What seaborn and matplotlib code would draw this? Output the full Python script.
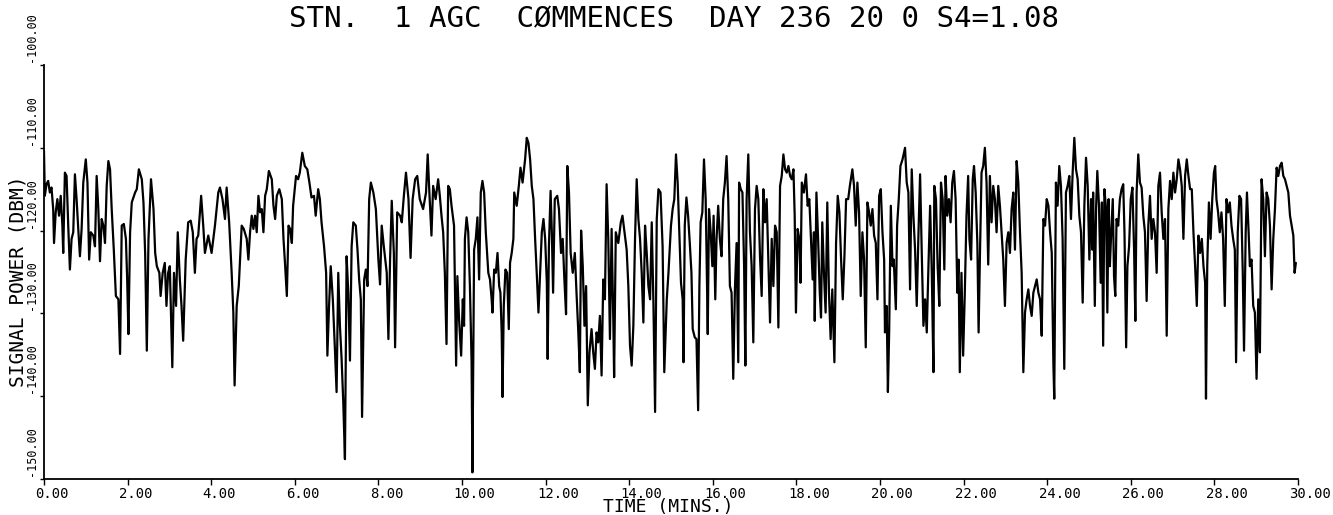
import numpy as np
import pandas as pd
import matplotlib
matplotlib.use("Agg")
import matplotlib.pyplot as plt
import matplotlib.transforms as mtransforms
import seaborn as sns

# AGC signal power record, station 1, day 236 (time in minutes, power in dBm)
t_00_05 = [0.00, 0.01, 0.02, 0.06, 0.10, 0.14, 0.18, 0.22, 0.24, 0.28, 0.32, 0.36, 0.40, 0.44, 0.46,
           0.50, 0.54, 0.58, 0.62, 0.66, 0.70, 0.74, 0.78, 0.82, 0.86, 0.90, 0.94, 1.00, 1.04, 1.08,
           1.12, 1.18, 1.22, 1.26, 1.30, 1.34, 1.38, 1.42, 1.46, 1.50, 1.54, 1.58, 1.62, 1.67, 1.72,
           1.78, 1.82, 1.86, 1.91, 1.96, 1.99, 2.02, 2.06, 2.10, 2.18, 2.22, 2.27, 2.34, 2.38, 2.42,
           2.46, 2.50, 2.56, 2.62, 2.66, 2.70, 2.76, 2.79, 2.84, 2.89, 2.93, 2.97, 3.01, 3.07, 3.11,
           3.16, 3.20, 3.25, 3.29, 3.33, 3.39, 3.45, 3.51, 3.56, 3.61, 3.65, 3.69, 3.76, 3.81, 3.85,
           3.93, 4.01, 4.09, 4.17, 4.21, 4.27, 4.33, 4.37, 4.43, 4.49, 4.53, 4.56, 4.61, 4.66, 4.73,
           4.78, 4.85, 4.89]
p_00_05 = [-110.4, -113.4, -115.8, -114.4, -114.0, -115.4, -114.8, -117.4, -121.5, -117.8,
           -116.2, -118.2, -115.8, -119.4, -122.7, -113.0, -113.4, -119.4, -124.7, -121.0,
           -120.2, -113.2, -116.2, -119.8, -123.1, -119.8, -114.2, -111.4, -114.2, -123.5,
           -120.2, -120.6, -121.9, -113.4, -117.4, -123.7, -118.6, -119.4, -121.5, -114.6,
           -111.6, -112.6, -117.4, -122.3, -127.9, -128.3, -134.9, -119.4, -119.2, -121.0,
           -125.9, -132.5, -120.2, -116.6, -115.4, -115.0, -112.6, -113.8, -116.6, -122.7,
           -134.5, -121.0, -113.8, -117.4, -122.7, -124.3, -125.1, -127.9, -125.1, -123.9,
           -129.1, -125.1, -124.3, -136.5, -125.1, -129.1, -120.2, -125.9, -129.1, -133.3,
           -123.5, -119.0, -118.8, -120.2, -125.1, -121.0, -120.6, -115.8, -119.4, -122.7,
           -120.6, -122.7, -119.4, -115.4, -114.8, -116.2, -118.6, -114.8, -119.0, -125.1,
           -129.9, -138.7, -129.1, -126.7, -119.4, -119.8, -121.0, -123.5]

t_05_10 = [4.93, 4.97, 5.01, 5.05, 5.09, 5.13, 5.17, 5.21, 5.25, 5.29, 5.33, 5.38, 5.45, 5.49, 5.53,
           5.57, 5.63, 5.69, 5.73, 5.77, 5.81, 5.85, 5.89, 5.93, 5.96, 6.03, 6.08, 6.12, 6.18, 6.24,
           6.30, 6.35, 6.40, 6.46, 6.50, 6.56, 6.60, 6.64, 6.70, 6.75, 6.78, 6.82, 6.86, 6.91, 6.96,
           7.00, 7.04, 7.08, 7.12, 7.16, 7.20, 7.24, 7.28, 7.32, 7.36, 7.40, 7.46, 7.50, 7.54, 7.58,
           7.61, 7.66, 7.70, 7.74, 7.78, 7.82, 7.88, 7.94, 8.00, 8.04, 8.08, 8.13, 8.20, 8.24, 8.28,
           8.32, 8.37, 8.40, 8.45, 8.52, 8.56, 8.61, 8.66, 8.72, 8.77, 8.82, 8.88, 8.93, 8.99, 9.07,
           9.14, 9.18, 9.22, 9.27, 9.31, 9.37, 9.43, 9.47, 9.51, 9.55, 9.59, 9.63, 9.67, 9.71, 9.75,
           9.81, 9.86, 9.89, 9.93]
p_05_10 = [-120.2, -118.2, -119.8, -118.2, -120.2, -115.8, -117.8, -117.4, -120.2, -115.8,
           -115.0, -112.8, -113.8, -117.0, -118.6, -115.8, -115.0, -116.2, -121.0, -124.3,
           -127.9, -119.4, -119.8, -121.5, -117.0, -113.4, -113.8, -113.0, -110.6, -112.2,
           -112.6, -114.2, -116.0, -115.8, -118.2, -115.0, -116.2, -119.0, -121.9, -125.1,
           -135.1, -129.1, -124.3, -128.3, -134.3, -139.5, -125.1, -131.5, -135.5, -140.7,
           -147.6, -123.1, -127.5, -135.7, -121.9, -119.0, -119.4, -122.3, -125.9, -128.3,
           -142.5, -125.9, -124.7, -126.7, -116.2, -114.2, -115.4, -117.4, -123.5, -126.5,
           -119.4, -121.9, -125.1, -133.1, -123.5, -116.4, -122.7, -134.1, -117.8, -118.2,
           -119.0, -115.8, -113.0, -116.2, -123.3, -116.2, -113.8, -113.4, -116.2, -117.4,
           -115.4, -110.8, -115.4, -120.6, -114.6, -116.2, -113.8, -115.8, -118.2, -120.2,
           -125.1, -133.7, -114.6, -115.0, -117.0, -119.4, -136.3, -125.5, -130.7]

t_10_15 = [9.98, 10.02, 10.05, 10.07, 10.11, 10.15, 10.19, 10.23, 10.25, 10.29, 10.33, 10.37, 10.41,
           10.45, 10.49, 10.53, 10.57, 10.63, 10.67, 10.71, 10.73, 10.77, 10.81, 10.85, 10.89, 10.92,
           10.95, 10.97, 11.00, 11.04, 11.08, 11.12, 11.15, 11.19, 11.23, 11.25, 11.31, 11.36, 11.40,
           11.45, 11.51, 11.55, 11.59, 11.63, 11.67, 11.71, 11.75, 11.79, 11.83, 11.87, 11.91, 11.95,
           11.99, 12.03, 12.05, 12.08, 12.12, 12.15, 12.18, 12.22, 12.28, 12.32, 12.37, 12.41, 12.45,
           12.49, 12.52, 12.56, 12.60, 12.65, 12.70, 12.74, 12.78, 12.82, 12.85, 12.89, 12.93, 12.97,
           13.01, 13.05, 13.10, 13.14, 13.18, 13.22, 13.26, 13.30, 13.34, 13.38, 13.42, 13.46, 13.50,
           13.54, 13.58, 13.62, 13.64, 13.68, 13.74, 13.80, 13.84, 13.88, 13.94, 13.98, 14.02, 14.06,
           14.10, 14.14, 14.18, 14.22, 14.26, 14.30, 14.34, 14.38, 14.42, 14.46, 14.50, 14.54, 14.58,
           14.62, 14.66, 14.70, 14.75, 14.80, 14.84, 14.90, 14.94]
p_10_15 = [-135.1, -128.3, -131.5, -121.0, -118.4, -120.2, -126.7, -135.9, -149.2, -122.3,
           -121.0, -118.4, -125.9, -115.4, -114.0, -115.4, -120.2, -125.1, -125.9, -128.3,
           -129.9, -124.7, -125.1, -122.7, -126.7, -127.5, -132.3, -140.1, -129.1, -124.7,
           -125.1, -131.9, -123.9, -122.7, -121.0, -115.4, -117.0, -114.6, -112.4, -114.2,
           -111.4, -108.8, -109.4, -111.4, -114.6, -116.2, -121.0, -125.3, -129.9, -125.1,
           -120.2, -118.6, -121.0, -126.3, -135.5, -121.9, -115.2, -120.2, -127.5, -116.2,
           -115.8, -117.4, -122.7, -121.0, -125.9, -130.1, -112.2, -115.4, -122.7, -125.1,
           -122.7, -127.5, -131.9, -137.1, -120.0, -124.3, -131.5, -126.7, -141.1, -134.7,
           -131.9, -134.7, -136.7, -132.3, -133.5, -130.3, -137.5, -125.9, -128.3, -114.4,
           -121.0, -133.1, -119.8, -130.7, -137.7, -120.2, -121.5, -119.0, -118.2, -119.8,
           -122.3, -126.7, -133.9, -136.3, -131.5, -121.0, -113.8, -118.6, -121.0, -125.1,
           -131.1, -119.4, -122.7, -126.7, -128.3, -119.0, -128.7, -141.9, -118.6, -115.0,
           -115.4, -121.9, -137.1, -128.3, -125.1]

t_15_20 = [15.00, 15.04, 15.08, 15.12, 15.16, 15.20, 15.24, 15.28, 15.30, 15.33, 15.37, 15.41, 15.45,
           15.49, 15.52, 15.57, 15.61, 15.65, 15.68, 15.71, 15.75, 15.79, 15.83, 15.85, 15.88, 15.91,
           15.95, 15.99, 16.02, 16.06, 16.09, 16.13, 16.17, 16.21, 16.25, 16.29, 16.33, 16.37, 16.41,
           16.45, 16.49, 16.53, 16.57, 16.61, 16.63, 16.67, 16.71, 16.75, 16.78, 16.81, 16.85, 16.89,
           16.93, 16.97, 17.01, 17.05, 17.09, 17.13, 17.17, 17.21, 17.25, 17.29, 17.33, 17.37, 17.41,
           17.45, 17.49, 17.53, 17.57, 17.61, 17.65, 17.69, 17.73, 17.77, 17.81, 17.85, 17.89, 17.93,
           17.96, 17.99, 18.03, 18.07, 18.10, 18.13, 18.18, 18.23, 18.27, 18.31, 18.35, 18.39, 18.42,
           18.44, 18.48, 18.52, 18.56, 18.59, 18.62, 18.66, 18.70, 18.74, 18.78, 18.82, 18.86, 18.91,
           18.95, 18.99, 19.03, 19.07, 19.11, 19.15, 19.19, 19.24, 19.28, 19.34, 19.38, 19.42, 19.46,
           19.50, 19.54, 19.58, 19.62, 19.66, 19.70, 19.74, 19.78, 19.82, 19.86, 19.90, 19.94, 19.98]
p_15_20 = [-119.4, -117.4, -116.2, -110.8, -114.2, -120.2, -126.3, -128.3, -135.9, -119.4,
           -116.0, -118.2, -121.5, -125.1, -131.9, -132.9, -133.1, -141.7, -126.7, -119.0,
           -117.8, -111.4, -116.2, -122.3, -132.5, -117.4, -120.2, -124.3, -118.2, -128.3,
           -121.0, -117.0, -121.0, -123.1, -116.2, -114.2, -111.0, -116.2, -126.7, -127.5,
           -137.9, -127.1, -121.5, -135.9, -114.2, -115.0, -115.4, -124.3, -136.3, -116.2,
           -110.8, -120.2, -124.3, -133.5, -117.4, -114.6, -116.2, -123.1, -127.9, -115.0,
           -119.0, -116.2, -123.5, -131.1, -121.0, -126.7, -119.4, -120.2, -131.7, -114.6,
           -113.4, -110.8, -112.6, -113.0, -112.2, -113.4, -113.8, -112.6, -118.2, -129.9,
           -119.8, -121.0, -126.3, -114.2, -115.4, -113.2, -117.0, -116.2, -121.0, -125.9,
           -120.2, -130.9, -115.4, -121.0, -127.5, -130.5, -119.0, -125.1, -129.9, -116.6,
           -127.5, -133.1, -127.1, -135.9, -121.5, -115.8, -117.8, -123.5, -128.3, -123.1,
           -116.2, -116.2, -114.6, -112.6, -114.6, -119.4, -114.2, -117.8, -127.9, -120.2,
           -123.5, -134.1, -116.6, -117.8, -119.4, -117.4, -120.6, -121.5, -128.3, -115.8]

t_20_25 = [20.02, 20.06, 20.10, 20.12, 20.16, 20.19, 20.22, 20.26, 20.30, 20.33, 20.38, 20.41, 20.45,
           20.49, 20.54, 20.60, 20.64, 20.68, 20.72, 20.76, 20.80, 20.84, 20.88, 20.92, 20.96, 21.00,
           21.04, 21.08, 21.12, 21.16, 21.20, 21.24, 21.28, 21.30, 21.34, 21.38, 21.42, 21.46, 21.50,
           21.54, 21.57, 21.61, 21.65, 21.69, 21.73, 21.77, 21.81, 21.85, 21.88, 21.91, 21.95, 21.99,
           22.03, 22.07, 22.11, 22.14, 22.18, 22.22, 22.25, 22.29, 22.33, 22.36, 22.39, 22.43, 22.47,
           22.51, 22.55, 22.59, 22.63, 22.67, 22.71, 22.75, 22.79, 22.83, 22.87, 22.91, 22.95, 22.99,
           23.03, 23.07, 23.11, 23.15, 23.19, 23.23, 23.27, 23.31, 23.35, 23.39, 23.43, 23.47, 23.51,
           23.55, 23.59, 23.63, 23.67, 23.71, 23.75, 23.79, 23.83, 23.87, 23.91, 23.95, 23.99, 24.03,
           24.07, 24.11, 24.15, 24.17, 24.21, 24.25, 24.29, 24.33, 24.37, 24.41, 24.45, 24.49, 24.53,
           24.57, 24.61, 24.65, 24.69, 24.73, 24.77, 24.81, 24.85, 24.89, 24.93, 24.97, 25.01]
p_20_25 = [-115.0, -120.2, -123.5, -132.3, -129.1, -139.5, -132.3, -117.0, -124.3, -123.5,
           -129.5, -119.4, -116.2, -112.2, -111.4, -110.0, -114.2, -115.4, -127.1, -112.6,
           -118.2, -122.3, -129.1, -120.6, -113.2, -122.7, -131.5, -128.3, -132.3, -124.3,
           -117.0, -125.1, -137.1, -114.6, -116.2, -124.3, -129.1, -114.2, -116.2, -124.7,
           -113.4, -118.2, -116.2, -119.0, -114.2, -112.8, -116.2, -127.5, -123.5, -137.1,
           -125.1, -135.1, -127.5, -118.2, -113.4, -121.0, -123.5, -113.8, -112.2, -115.4,
           -121.5, -132.3, -123.5, -113.0, -112.2, -110.0, -114.2, -124.1, -113.4, -119.0,
           -114.6, -116.2, -120.2, -114.6, -117.0, -120.2, -123.5, -129.1, -121.5, -120.2,
           -122.7, -117.4, -115.4, -122.3, -111.6, -114.2, -120.2, -125.1, -137.1, -129.9,
           -128.3, -127.1, -129.1, -130.3, -127.5, -126.7, -125.9, -127.5, -128.3, -132.7,
           -118.6, -119.4, -116.2, -117.0, -120.2, -122.7, -136.3, -140.3, -114.2, -117.0,
           -112.2, -114.6, -121.0, -136.7, -115.4, -114.6, -113.4, -118.6, -113.0, -108.8,
           -112.6, -113.8, -118.2, -120.2, -128.7, -117.0, -111.2, -114.6, -123.5]

t_25_30 = [25.05, 25.08, 25.10, 25.14, 25.17, 25.20, 25.24, 25.28, 25.31, 25.34, 25.37, 25.41, 25.44,
           25.47, 25.50, 25.53, 25.57, 25.60, 25.63, 25.66, 25.70, 25.74, 25.78, 25.82, 25.85, 25.89,
           25.92, 25.96, 26.00, 26.04, 26.08, 26.11, 26.14, 26.18, 26.22, 26.26, 26.30, 26.34, 26.38,
           26.42, 26.46, 26.50, 26.54, 26.58, 26.62, 26.66, 26.70, 26.74, 26.78, 26.82, 26.86, 26.90,
           26.94, 26.98, 27.02, 27.06, 27.10, 27.14, 27.18, 27.22, 27.26, 27.30, 27.34, 27.38, 27.42,
           27.46, 27.50, 27.54, 27.58, 27.62, 27.66, 27.70, 27.74, 27.78, 27.80, 27.83, 27.87, 27.91,
           27.95, 27.99, 28.02, 28.05, 28.09, 28.13, 28.17, 28.21, 28.25, 28.29, 28.33, 28.37, 28.41,
           28.45, 28.49, 28.52, 28.56, 28.60, 28.64, 28.68, 28.71, 28.75, 28.78, 28.82, 28.85, 28.89,
           28.93, 28.97, 29.01, 29.05, 29.09, 29.13, 29.17, 29.21, 29.25, 29.29, 29.33, 29.37, 29.41,
           29.45, 29.49, 29.53, 29.57, 29.61, 29.65, 29.69, 29.73, 29.77, 29.81, 29.85, 29.89, 29.92,
           29.95]
p_25_30 = [-116.2, -122.3, -115.4, -129.1, -117.4, -112.8, -117.0, -126.3, -116.6, -133.9,
           -115.0, -117.4, -129.9, -116.2, -124.3, -120.6, -116.2, -125.5, -127.9, -118.6,
           -119.4, -116.2, -115.0, -114.4, -120.2, -134.1, -124.3, -121.9, -116.2, -114.8,
           -122.3, -130.9, -115.4, -110.8, -114.2, -114.8, -118.2, -120.2, -128.5, -119.4,
           -115.8, -121.0, -118.6, -120.2, -125.1, -114.6, -113.0, -117.8, -121.0, -118.6,
           -132.7, -117.4, -114.0, -116.2, -113.0, -115.4, -113.8, -111.4, -112.6, -114.6,
           -121.0, -113.4, -111.4, -113.4, -115.0, -115.0, -120.2, -124.3, -129.1, -120.6,
           -122.7, -121.0, -124.3, -126.3, -140.3, -124.3, -116.6, -121.0, -116.2, -113.0,
           -112.2, -116.2, -117.8, -120.2, -117.8, -121.0, -129.1, -116.2, -117.8, -116.6,
           -119.4, -121.0, -122.3, -135.9, -120.2, -115.8, -116.2, -125.1, -134.5, -120.2,
           -115.4, -120.2, -124.3, -123.5, -129.1, -129.9, -137.9, -128.3, -134.7, -113.8,
           -116.2, -123.1, -115.4, -116.2, -119.4, -127.1, -121.0, -117.4, -112.4, -113.4,
           -112.2, -111.8, -113.4, -113.8, -114.6, -115.4, -118.2, -119.4, -120.6, -125.1,
           -123.9]

x_ticks = [0, 2, 4, 6, 8, 10, 12, 14, 16, 18, 20, 22, 24, 26, 28, 30]
x_tick_labels = ["0.00", "2.00", "4.00", "6.00", "8.00", "10.00", "12.00", "14.00",
                 "16.00", "18.00", "20.00", "22.00", "24.00", "26.00", "28.00", "30.00"]
y_ticks = [-150, -140, -130, -120, -110, -100]
y_tick_labels = ["-150.00", "-140.00", "-130.00", "-120.00", "-110.00", "-100.00"]
title_text = "STN.  1 AGC  C\u00d8MMENCES  DAY 236 20 0 S4=1.08"
x_label = "TIME (MINS.)"
y_label = "SIGNAL POWER (DBM)"

segments = [(t_00_05, p_00_05), (t_05_10, p_05_10), (t_10_15, p_10_15),
            (t_15_20, p_15_20), (t_20_25, p_20_25), (t_25_30, p_25_30)]
record = pd.concat([pd.DataFrame({"minutes": t, "dbm": p}) for t, p in segments],
                   ignore_index=True)

sns.set_style("ticks")
plt.rcParams["font.family"] = ["DejaVu Sans Mono", "DejaVu Sans"]

fig = plt.figure(figsize=(13.33, 5.15), dpi=100)
ax = fig.add_axes([0.033, 0.0699, 0.9407, 0.8039])

sns.lineplot(data=record, x="minutes", y="dbm", ax=ax, color="black",
             linewidth=1.6, sort=False, estimator=None)

ax.set_xlim(0, 30)
ax.set_ylim(-150, -100)
sns.despine(ax=ax)
for side in ("left", "bottom"):
    ax.spines[side].set_color("black")
    ax.spines[side].set_linewidth(1.3)

ax.set_xticks(x_ticks)
ax.set_xticklabels(x_tick_labels)
ax.set_yticks(y_ticks)
ax.set_yticklabels(y_tick_labels)
ax.tick_params(axis="x", direction="out", length=4, width=1, pad=2,
               labelsize=10, colors="black")
ax.tick_params(axis="y", direction="out", length=3, width=1, pad=1.5,
               labelsize=8.5, labelrotation=90, colors="black")

# plotter-style label placement: x labels start just left of the tick,
# y labels run upward from just above the tick
shift_x = mtransforms.ScaledTranslation(-8.5 / 100, 0, fig.dpi_scale_trans)
for lab in ax.get_xticklabels():
    lab.set_ha("left")
    lab.set_transform(lab.get_transform() + shift_x)
shift_y = mtransforms.ScaledTranslation(0, 3 / 100, fig.dpi_scale_trans)
for lab in ax.get_yticklabels():
    lab.set_va("bottom")
    lab.set_ha("right")
    lab.set_transform(lab.get_transform() + shift_y)

ax.set_xlabel(x_label, fontsize=13, color="black")
ax.xaxis.set_label_coords(0.4976, -0.046)
ax.set_ylabel(y_label, fontsize=14, color="black")
ax.yaxis.set_label_coords(-0.0128, 0.478)

fig.text(0.506, 0.963, title_text, ha="center", va="center", fontsize=21, color="black")

fig.savefig("out.png", dpi=100)
